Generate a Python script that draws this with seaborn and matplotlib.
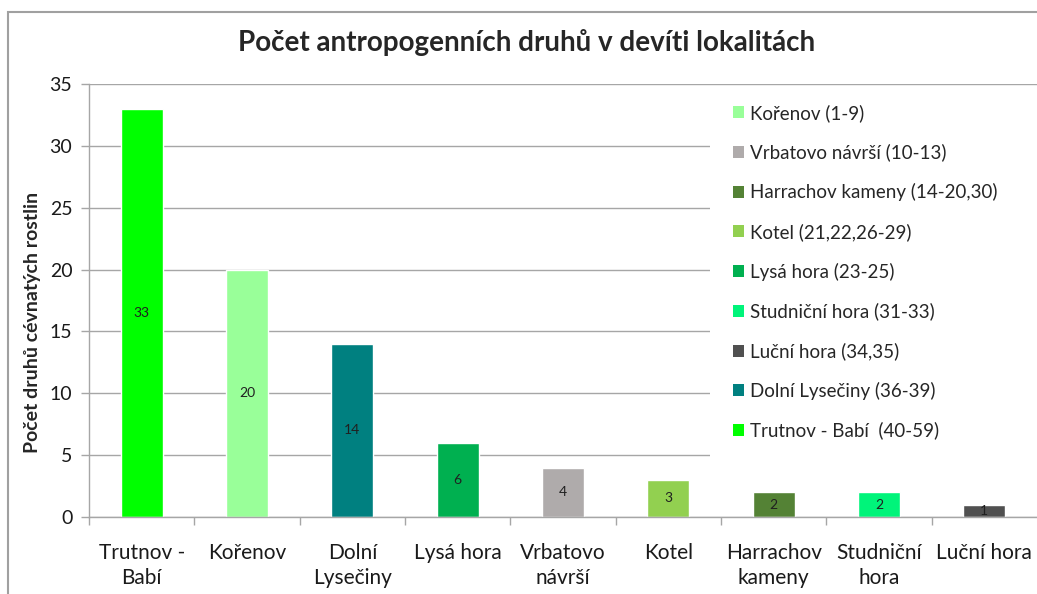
import numpy as np
import matplotlib
matplotlib.use("Agg")
import matplotlib.pyplot as plt
from matplotlib.patches import Patch, Rectangle
import seaborn as sns

# data
lokality = [
    "Trutnov -\nBabí",
    "Kořenov",
    "Dolní\nLysečiny",
    "Lysá hora",
    "Vrbatovo\nnávrší",
    "Kotel",
    "Harrachov\nkameny",
    "Studniční\nhora",
    "Luční hora",
]
pocty = [33, 20, 14, 6, 4, 3, 2, 2, 1]
barvy = [
    "#00FF00",
    "#99FF99",
    "#008080",
    "#00B050",
    "#AFABAB",
    "#92D050",
    "#548235",
    "#00F47A",
    "#505050",
]

legenda_popisky = [
    "Kořenov (1-9)",
    "Vrbatovo návrší (10-13)",
    "Harrachov kameny (14-20,30)",
    "Kotel (21,22,26-29)",
    "Lysá hora (23-25)",
    "Studniční hora (31-33)",
    "Luční hora (34,35)",
    "Dolní Lysečiny (36-39)",
    "Trutnov - Babí  (40-59)",
]
legenda_barvy = [
    "#99FF99",
    "#AFABAB",
    "#548235",
    "#92D050",
    "#00B050",
    "#00F47A",
    "#505050",
    "#008080",
    "#00FF00",
]

sns.set_theme(style="white")
plt.rcParams["font.family"] = ["Lato", "DejaVu Sans"]

grid_col = "#A6A6A6"

fig = plt.figure(figsize=(10.37, 5.94), dpi=100)
ax = fig.add_axes([89 / 1037, 1 - 517 / 594, 1 - 89 / 1037, (517 - 84) / 594])

sns.barplot(
    x=lokality,
    y=pocty,
    hue=lokality,
    palette=barvy,
    width=0.4,
    legend=False,
    saturation=1,
    ax=ax,
)

for cont in ax.containers:
    ax.bar_label(cont, label_type="center", fontsize=10, color="#202020")

ax.set_ylim(0, 35)
ax.set_xlim(-0.5, len(lokality) - 0.5)
ax.set_yticks(np.arange(0, 36, 5))
ax.yaxis.grid(True, color=grid_col, linewidth=1)
ax.set_axisbelow(True)

for s in ["top", "right"]:
    ax.spines[s].set_visible(False)
for s in ["left", "bottom"]:
    ax.spines[s].set_color(grid_col)
    ax.spines[s].set_linewidth(1)

ax.set_xticks(np.arange(len(lokality)) - 0.5, minor=True)
ax.tick_params(axis="x", which="major", length=0, pad=19, labelsize=15,
               colors="#1a1a1a")
ax.tick_params(axis="x", which="minor", length=6, color=grid_col, width=1,
               direction="out", bottom=True)
ax.tick_params(axis="y", length=6, color=grid_col, width=1, direction="out",
               left=True, labelsize=14, labelcolor="#1a1a1a", pad=6)
for lab in ax.get_xticklabels():
    lab.set_linespacing(1.3)

ax.set_ylabel("Počet druhů cévnatých rostlin", fontsize=14, fontweight="bold")
ax.yaxis.set_label_coords(-0.0506, 0.45)

fig.suptitle("Počet antropogenních druhů v devíti lokalitách", fontsize=20,
             fontweight="bold", x=0.508, y=1 - 42 / 594, va="center")

# white area of the legend box (hides gridlines behind it)
ax.add_patch(
    Rectangle((710 / 1037, 1 - 468 / 594), 1 - 710 / 1037, (468 - 92) / 594,
              transform=fig.transFigure, facecolor="white", edgecolor="none",
              zorder=1, clip_on=False)
)

handles = [Patch(facecolor=c, edgecolor="none") for c in legenda_barvy]
leg = ax.legend(
    handles,
    legenda_popisky,
    loc="upper left",
    bbox_to_anchor=(718 / 1037, 1 - 89 / 594),
    bbox_transform=fig.transFigure,
    frameon=True,
    facecolor="white",
    edgecolor="white",
    framealpha=1,
    fontsize=13.5,
    handlelength=0.6,
    handleheight=0.6,
    handletextpad=0.3,
    labelspacing=1.16,
    borderpad=0.3,
)

fig.patches.append(
    Rectangle((8 / 1037, -0.1), 1.2, 1.1 - 12 / 594, transform=fig.transFigure,
              fill=False, edgecolor="#A0A0A0", linewidth=1.5)
)

fig.savefig("out.png", dpi=100)
